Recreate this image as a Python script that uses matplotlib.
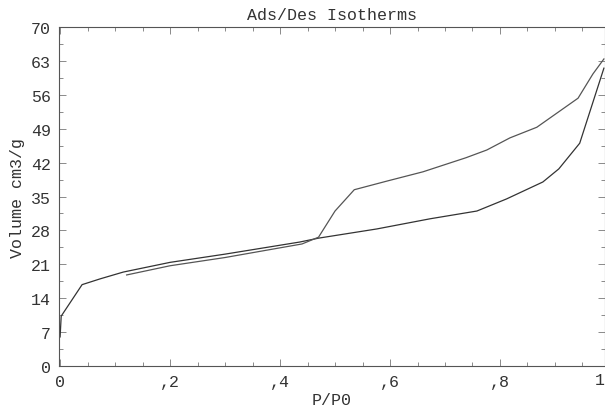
import matplotlib.pyplot as plt
from matplotlib.ticker import MultipleLocator, FuncFormatter

# adsorption branch
ads_p = [0.0, 0.002, 0.04, 0.073, 0.115, 0.2, 0.3, 0.436, 0.47, 0.576, 0.673, 0.758,
         0.812, 0.878, 0.907, 0.945, 0.989]
ads_v = [6.0, 10.3, 16.8, 18.0, 19.4, 21.4, 23.1, 25.6, 26.4, 28.3, 30.4, 32.0,
         34.5, 38.0, 40.7, 46.0, 61.5]

# desorption branch
des_p = [0.989, 0.969, 0.942, 0.867, 0.818, 0.776, 0.738, 0.66, 0.595, 0.535,
         0.5, 0.47, 0.44, 0.3, 0.2, 0.121]
des_v = [63.4, 60.3, 55.3, 49.3, 47.1, 44.6, 43.0, 40.1, 38.2, 36.4,
         32.0, 26.6, 25.2, 22.4, 20.7, 18.8]

plt.rcParams['font.family'] = ['Liberation Mono', 'DejaVu Sans Mono']
plt.rcParams['font.size'] = 12

fig = plt.figure(figsize=(6.05, 4.10), dpi=100)
ax = fig.add_axes([59/605, 43/410, 546/605, 339/410])

ax.plot(ads_p, ads_v, color='#333333', lw=0.9)
ax.plot(des_p, des_v, color='#555555', lw=0.9)

ax.set_xlim(-0.002, 0.991)
ax.set_ylim(0, 70)

ax.xaxis.set_major_locator(MultipleLocator(0.2))
ax.xaxis.set_minor_locator(MultipleLocator(0.05))
ax.yaxis.set_major_locator(MultipleLocator(7))
ax.yaxis.set_minor_locator(MultipleLocator(3.5))


def fmt_x(v, pos):
    if abs(v) < 1e-9:
        return '0'
    if abs(v - 1) < 1e-9:
        return '1'
    return ',' + str(int(round(v * 10)))


ax.xaxis.set_major_formatter(FuncFormatter(fmt_x))
ax.tick_params(which='both', direction='in', top=True, right=True,
               color='#777777', labelcolor='#333333')
ax.tick_params(which='major', length=5, width=0.6, pad=6)
ax.tick_params(which='minor', length=3, width=0.6)

# the "1" label at the right edge, kept inside the figure
ax.text(0.999, -0.018, '1', transform=ax.transAxes, ha='right', va='top',
        fontsize=12, color='#333333')

for s in ax.spines.values():
    s.set_color('#555555')
    s.set_linewidth(0.8)

ax.set_title('Ads/Des Isotherms', fontsize=12, color='#333333', pad=6)
ax.set_xlabel('P/P0', fontsize=12, color='#333333', labelpad=2)
ax.set_ylabel('Volume cm3/g', fontsize=12, color='#333333', labelpad=4)

plt.savefig('out.png', dpi=100)
